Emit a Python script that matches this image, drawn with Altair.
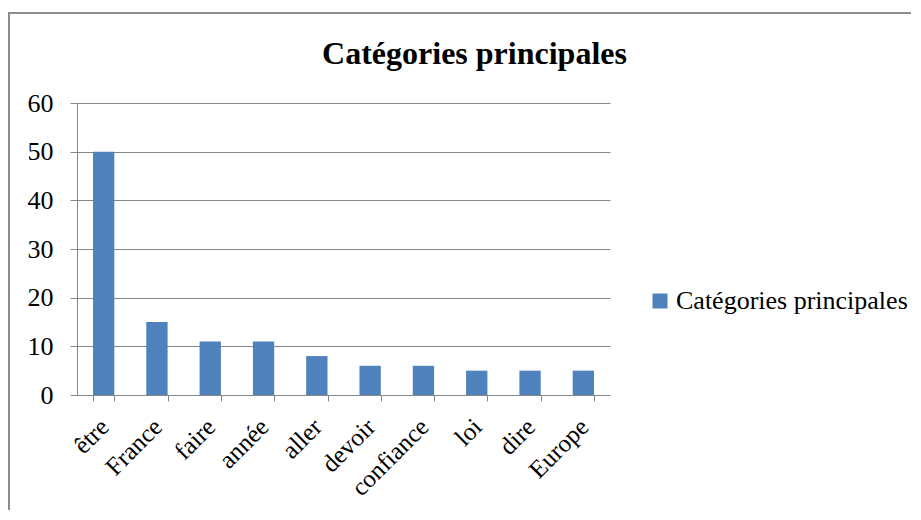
import altair as alt
import pandas as pd

categories = ["être", "France", "faire", "année", "aller", "devoir", "confiance", "loi", "dire", "Europe"]
values = [50, 15, 11, 11, 8, 6, 6, 5, 5, 5]
series_name = "Catégories principales"

df = pd.DataFrame({"cat": categories, "val": values, "serie": [series_name] * len(categories)})

FONT = "Liberation Serif"
GRID = "#868686"

bars = alt.Chart(df).mark_bar(color="#4F81BD").encode(
    x=alt.X("cat:N", sort=categories, title=None,
            scale=alt.Scale(paddingInner=0.6, paddingOuter=0.3),
            axis=alt.Axis(labelAngle=-45, labelFont=FONT, labelFontSize=25, labelColor="black",
                          tickBand="extent", tickSize=6, tickColor=GRID, domainColor=GRID,
                          labelPadding=13, labelOffset=-8, labelOverlap=False, labelLimit=300)),
    y=alt.Y("val:Q", title=None,
            scale=alt.Scale(domain=[0, 60], nice=False),
            axis=alt.Axis(values=[0, 10, 20, 30, 40, 50, 60], labelFont=FONT, labelFontSize=26,
                          labelColor="black", tickSize=7, tickColor=GRID, domainColor=GRID,
                          gridColor=GRID, gridOpacity=1, labelPadding=17)),
    color=alt.Color("serie:N", title=None,
                    scale=alt.Scale(domain=[series_name], range=["#4F81BD"]),
                    legend=alt.Legend(orient="none", legendX=570, legendY=185, labelFont=FONT,
                                      labelFontSize=26, labelColor="black", symbolType="square",
                                      symbolSize=225, symbolStrokeWidth=0, labelOffset=3,
                                      labelLimit=400)),
)

frame = alt.Chart(df).mark_rect(fill=None, stroke="#8C8C8C", strokeWidth=1.5).encode(
    x=alt.value(-68), x2=alt.value(900), y=alt.value(-90), y2=alt.value(600)
)

chart = alt.layer(frame, bars).properties(
    width=533, height=292,
    padding={"left": 69, "top": 95, "right": 301, "bottom": 115},
    autosize=alt.AutoSizeParams(type="none"),
    title=alt.TitleParams(series_name, font=FONT, fontSize=32, fontWeight="bold", color="black",
                          anchor="middle", dx=131, offset=-84, baseline="alphabetic"),
).configure(font=FONT).configure_view(stroke=None).configure_legend(labelFont=FONT)

chart.save("out.html", embed_options={"renderer": "svg", "actions": False})
